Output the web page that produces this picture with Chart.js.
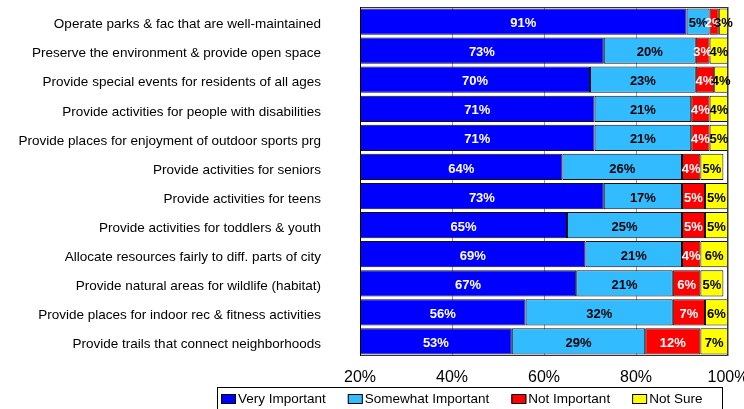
<!DOCTYPE html>
<html>
<head>
<meta charset="utf-8">
<script src="https://cdn.jsdelivr.net/npm/chart.js@4.4.0/dist/chart.umd.min.js"></script>
<style>
  html, body { margin: 0; padding: 0; background: #fff; }
  #wrap { width: 744px; height: 409px; }
</style>
</head>
<body>
<div id="wrap"><canvas id="chart" width="744" height="409"></canvas></div>
<script>
// Survey: importance of each parks & recreation priority
const categories = [
  'Operate parks & fac that are well-maintained',
  'Preserve the environment & provide open space',
  'Provide special events for residents of all ages',
  'Provide activities for people with disabilities',
  'Provide places for enjoyment of outdoor sports prg',
  'Provide activities for seniors',
  'Provide activities for teens',
  'Provide activities for toddlers & youth',
  'Allocate resources fairly to diff. parts of city',
  'Provide natural areas for wildlife (habitat)',
  'Provide places for indoor rec & fitness activities',
  'Provide trails that connect neighborhoods'
];
const veryImportant     = [91, 73, 70, 71, 71, 64, 73, 65, 69, 67, 56, 53];
const somewhatImportant = [5, 20, 23, 21, 21, 26, 17, 25, 21, 21, 32, 29];
const notImportant      = [2, 3, 4, 4, 4, 4, 5, 5, 4, 6, 7, 12];
const notSure           = [3, 4, 4, 4, 5, 5, 5, 5, 6, 5, 6, 7];
const seriesNames  = ['Very Important', 'Somewhat Important', 'Not Important', 'Not Sure'];
const seriesColors = ['#0000FF', '#33BBFF', '#FF0000', '#FFFF00'];
const labelColors  = ['#FFFFFF', '#000000', '#FFFFFF', '#000000'];
const xMin = 20, xMax = 100, xStep = 20;

const FONT = '"Liberation Sans", Arial, Helvetica, sans-serif';

// white/black percentage text centred on the visible part of each segment
const barLabels = {
  id: 'barLabels',
  afterDatasetsDraw(chart) {
    const { ctx, chartArea: a } = chart;
    ctx.save();
    // frame around the plot
    ctx.strokeStyle = '#333';
    ctx.lineWidth = 1;
    ctx.strokeRect(a.left + 0.5, a.top + 0.5, a.right - a.left - 1, a.bottom - a.top - 1);
    ctx.strokeStyle = '#000';
    ctx.beginPath();
    ctx.moveTo(a.left + 0.5, a.top);
    ctx.lineTo(a.left + 0.5, a.bottom);
    ctx.stroke();

    ctx.font = 'bold 13px ' + FONT;
    ctx.textAlign = 'center';
    ctx.textBaseline = 'middle';
    chart.data.datasets.forEach((ds, i) => {
      chart.getDatasetMeta(i).data.forEach((bar, j) => {
        const lo = Math.max(Math.min(bar.x, bar.base), a.left);
        const hi = Math.min(Math.max(bar.x, bar.base), a.right);
        ctx.fillStyle = labelColors[i];
        ctx.fillText(ds.data[j] + '%', (lo + hi) / 2, bar.y + 2);
      });
    });
    ctx.restore();
  }
};

// boxed legend under the axis
const boxLegend = {
  id: 'boxLegend',
  afterDraw(chart) {
    const ctx = chart.ctx;
    ctx.save();
    ctx.strokeStyle = '#000';
    ctx.lineWidth = 1;
    ctx.strokeRect(217.5, 387.5, 505, 30);
    ctx.font = '13.5px ' + FONT;
    ctx.textBaseline = 'middle';
    ctx.textAlign = 'left';
    let x = 221;
    chart.data.datasets.forEach((ds, i) => {
      ctx.fillStyle = seriesColors[i];
      ctx.fillRect(x, 395, 15, 8);
      ctx.strokeStyle = '#000';
      ctx.strokeRect(x + 0.5, 394.5, 14, 9);
      ctx.fillStyle = '#000';
      ctx.fillText(ds.label, x + 17, 399);
      x += 17 + ctx.measureText(ds.label).width + 22;
    });
    ctx.restore();
  }
};

const seriesData = [veryImportant, somewhatImportant, notImportant, notSure];

new Chart(document.getElementById('chart'), {
  type: 'bar',
  data: {
    labels: categories,
    datasets: seriesData.map((d, i) => ({
      label: seriesNames[i],
      data: d,
      backgroundColor: seriesColors[i],
      borderColor: '#111',
      borderWidth: 1,
      borderSkipped: false,
      barPercentage: 0.9,
      categoryPercentage: 1
    }))
  },
  options: {
    indexAxis: 'y',
    responsive: false,
    animation: false,
    layout: { padding: { left: 0, right: 16, top: 7, bottom: 0 } },
    plugins: {
      legend: { display: false },
      tooltip: { enabled: false }
    },
    scales: {
      x: {
        stacked: true,
        min: xMin,
        max: xMax,
        ticks: {
          stepSize: xStep,
          padding: 12,
          color: '#000',
          font: { family: FONT, size: 16 },
          callback: v => v + '%'
        },
        grid: { color: '#999', drawTicks: false },
        border: { display: false },
        afterFit(scale) {
          scale.height = 53;
          scale.paddingLeft = 0;
          scale.paddingRight = 0;
        }
      },
      y: {
        stacked: true,
        ticks: {
          padding: 39,
          labelOffset: 3,
          color: '#000',
          font: { family: FONT, size: 13.5 }
        },
        grid: { display: false, drawTicks: false },
        border: { display: false },
        afterFit(scale) {
          scale.width = 360;
          scale.paddingTop = 0;
          scale.paddingBottom = 0;
        }
      }
    }
  },
  plugins: [barLabels, boxLegend]
});
</script>
</body>
</html>
